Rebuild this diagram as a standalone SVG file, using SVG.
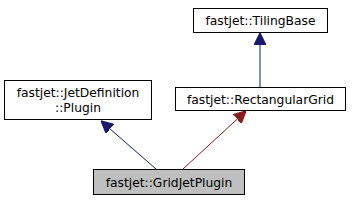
<svg xmlns="http://www.w3.org/2000/svg" width="352" height="201" viewBox="0 0 352 201">
<style>
.box{fill:#ffffff;stroke:#000000;stroke-width:1}
.cur{fill:#bfbfbf;stroke:#000000;stroke-width:1}
text{font-family:"DejaVu Sans",sans-serif;font-size:12.3px;text-anchor:middle;fill:#000000}
.pub{stroke:#191970;fill:none;stroke-width:1}
.prot{stroke:#8b1a1a;fill:none;stroke-width:1}
</style>
<defs>
<marker id="ab" markerWidth="12" markerHeight="12" refX="10" refY="5" orient="auto" markerUnits="userSpaceOnUse" viewBox="0 0 10 10">
<path d="M0,0 L10,5 L0,10 Z" fill="#191970" stroke="#191970"/>
</marker>
<marker id="ar" markerWidth="12" markerHeight="12" refX="10" refY="5" orient="auto" markerUnits="userSpaceOnUse" viewBox="0 0 10 10">
<path d="M0,0 L10,5 L0,10 Z" fill="#8b1a1a" stroke="#8b1a1a"/>
</marker>
</defs>
<g id="connectors">
<path class="pub" d="M156,169 L101,121" marker-end="url(#ab)"/>
<path class="prot" d="M183,169 L246,111" marker-end="url(#ar)"/>
<path class="pub" d="M260,87 L260,33" marker-end="url(#ab)"/>
</g>
<g id="node-plugin">
<rect class="box" x="4.5" y="80.5" width="147" height="39"/>
<text x="78" y="97">fastjet::JetDefinition</text>
<text x="78" y="112">::Plugin</text>
</g>
<g id="node-tilingbase">
<rect class="box" x="193.5" y="8.5" width="134" height="24"/>
<text x="260.5" y="25">fastjet::TilingBase</text>
</g>
<g id="node-rectgrid">
<rect class="box" x="175.5" y="87.5" width="170" height="23"/>
<text x="260.5" y="104">fastjet::RectangularGrid</text>
</g>
<g id="node-gridjetplugin">
<rect class="cur" x="93.5" y="169.5" width="151" height="25"/>
<text x="169" y="187">fastjet::GridJetPlugin</text>
</g>
</svg>
